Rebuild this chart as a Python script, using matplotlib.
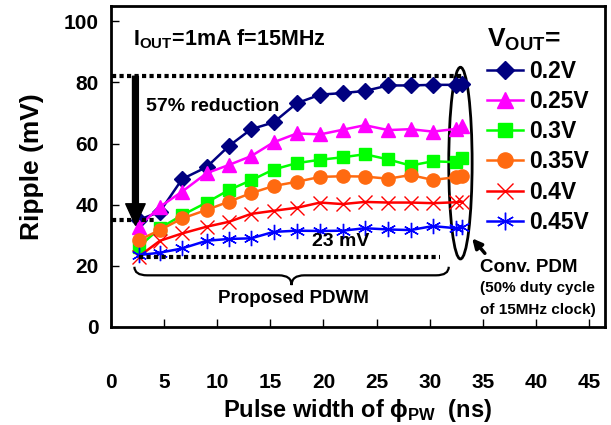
"""Ripple vs pulse width for the proposed PDWM and the conventional PDM."""

import matplotlib

matplotlib.use("Agg")

import matplotlib.pyplot as plt
from matplotlib.patches import Ellipse, PathPatch
from matplotlib.path import Path

plt.rcParams["font.family"] = ["Liberation Sans", "DejaVu Sans"]
plt.rcParams["font.weight"] = "bold"
plt.rcParams["axes.labelweight"] = "bold"
plt.rcParams["mathtext.fontset"] = "custom"
plt.rcParams["mathtext.rm"] = "Liberation Sans:bold"
plt.rcParams["mathtext.it"] = "Liberation Sans:bold"
plt.rcParams["mathtext.bf"] = "Liberation Sans:bold"

# pulse width (ns); the last point of every series is the conventional PDM
pulse_width = [2.6, 4.6, 6.7, 9.0, 11.1, 13.2, 15.3, 17.5, 19.7, 21.8,
               23.9, 26.1, 28.2, 30.3, 32.5, 33.0]

ripple_020 = [35.0, 37.7, 48.4, 52.3, 59.2, 64.7, 66.9, 73.2, 76.0, 76.5,
              77.2, 79.0, 79.0, 79.2, 79.2, 79.5]
ripple_025 = [32.8, 39.3, 44.3, 50.3, 53.0, 55.9, 60.4, 63.3, 63.0, 64.5,
              66.0, 64.4, 64.7, 63.9, 64.8, 65.7]
ripple_030 = [26.2, 32.3, 36.6, 40.7, 44.8, 48.0, 51.5, 53.6, 54.7, 55.5,
              56.5, 54.8, 52.8, 54.2, 53.9, 55.2]
ripple_035 = [28.4, 31.7, 35.5, 38.3, 41.0, 43.8, 46.1, 47.5, 49.1, 49.3,
              49.2, 48.5, 49.7, 48.1, 49.0, 49.4]
ripple_040 = [23.0, 28.2, 30.6, 32.8, 34.4, 37.0, 38.0, 39.0, 40.7, 40.2,
              40.9, 40.7, 40.7, 40.5, 40.8, 41.0]
ripple_045 = [23.5, 24.3, 25.7, 28.2, 28.8, 29.0, 31.1, 31.5, 31.4, 31.5,
              32.3, 31.9, 31.7, 33.0, 32.3, 32.8]

labels = ["0.2V", "0.25V", "0.3V", "0.35V", "0.4V", "0.45V"]
x_ticks = [0, 5, 10, 15, 20, 25, 30, 35, 40, 45]
y_ticks = [0, 20, 40, 60, 80, 100]

styles = [
    dict(color="#000080", marker="D", markersize=8),
    dict(color="#ff00ff", marker="^", markersize=10),
    dict(color="#00ff00", marker="s", markersize=8.5),
    dict(color="#ff6a10", marker="o", markersize=9.5),
    dict(color="#ff0000", marker="x", markersize=10, markeredgewidth=1.0),
    dict(color="#0000ff", marker=(6, 2, 0), markersize=11, markeredgewidth=1.0),
]


def draw_brace(ax, x0, x1, y_top, y_mid, y_tip, curl=1.2):
    xm = (x0 + x1) / 2
    verts = [
        (x0, y_top), (x0, y_mid), (x0 + curl, y_mid),
        (xm - curl, y_mid), (xm, y_mid), (xm, y_tip),
        (xm, y_mid), (xm + curl, y_mid),
        (x1 - curl, y_mid), (x1, y_mid), (x1, y_top),
    ]
    codes = [Path.MOVETO, Path.CURVE3, Path.CURVE3,
             Path.LINETO, Path.CURVE3, Path.CURVE3,
             Path.CURVE3, Path.CURVE3,
             Path.LINETO, Path.CURVE3, Path.CURVE3]
    ax.add_patch(PathPatch(Path(verts, codes), fill=False, lw=1.6, color="black"))


def main() -> None:
    fig = plt.figure(figsize=(6.11, 4.25), dpi=100)
    ax = fig.add_axes([0.1817, 0.2306, 0.8083, 0.7554])

    series = [ripple_020, ripple_025, ripple_030, ripple_035, ripple_040, ripple_045]
    for values, label, style in zip(series, labels, styles):
        ax.plot(pulse_width, values, lw=1.8, label=label, **style)

    ax.set_xlim(0, 46.5)
    ax.set_ylim(0, 105)
    ax.set_xticks(x_ticks)
    ax.set_yticks(y_ticks)
    ax.tick_params(direction="in", length=6, width=1, labelsize=15)
    ax.tick_params(axis="x", pad=33)
    ax.tick_params(axis="y", pad=9)
    for spine in ax.spines.values():
        spine.set_linewidth(2)

    ax.set_xlabel(r"Pulse width of $\phi_{\mathrm{PW}}$  (ns)", fontsize=17,
                  fontweight="bold", labelpad=4)
    ax.set_ylabel("Ripple (mV)", fontsize=19, fontweight="bold", labelpad=14)

    # reference levels
    dots = dict(color="black", lw=3, ls=(0, (1, 0.8)))
    ax.plot([0.1, 33.4], [82, 82], **dots)
    ax.plot([0.1, 4.0], [35, 35], **dots)
    ax.plot([2.6, 31.0], [22.8, 22.8], **dots)

    ax.annotate("", xy=(2.3, 33.3), xytext=(2.3, 82),
                arrowprops=dict(arrowstyle="simple,head_length=1.1,head_width=1.0,tail_width=0.3",
                                mutation_scale=14, color="black", shrinkA=0, shrinkB=0))
    ax.text(3.3, 72.0, "57% reduction", fontsize=14, va="center")
    ax.text(2.1, 94, r"$\mathrm{I_{OUT}}$=1mA f=15MHz", fontsize=15.5, va="center")
    ax.text(21.6, 27.8, "23 mV", fontsize=14, ha="center", va="center")

    draw_brace(ax, 2.2, 31.8, 19.7, 16.9, 13.7)
    ax.text(17.2, 9.4, "Proposed PDWM", fontsize=13.5, ha="center", va="center")

    ax.add_patch(Ellipse((32.9, 53.6), 2.2, 62.7, fill=False, lw=2, color="black"))
    ax.annotate("", xy=(34.0, 29.0), xytext=(35.2, 24.1),
                arrowprops=dict(arrowstyle="-|>", lw=2.5, mutation_scale=14,
                                color="black", shrinkA=0, shrinkB=0))
    ax.text(34.7, 19.4, "Conv. PDM", fontsize=13.5, va="center")
    ax.text(34.7, 12.7, "(50% duty cycle", fontsize=11, va="center")
    ax.text(34.7, 5.4, "of 15MHz clock)", fontsize=11, va="center")

    leg = ax.legend(loc="upper left", bbox_to_anchor=(0.762, 0.935), frameon=False,
                    fontsize=16.5, handlelength=1.55, handletextpad=0.26,
                    labelspacing=0.31, borderpad=0, borderaxespad=0,
                    markerscale=1.15,
                    title=r"$\mathrm{V_{OUT}}$=", title_fontsize=19,
                    alignment="left")
    leg.get_title().set_fontweight("bold")

    fig.savefig("out.png", dpi=100)
    plt.close(fig)


if __name__ == "__main__":
    main()
